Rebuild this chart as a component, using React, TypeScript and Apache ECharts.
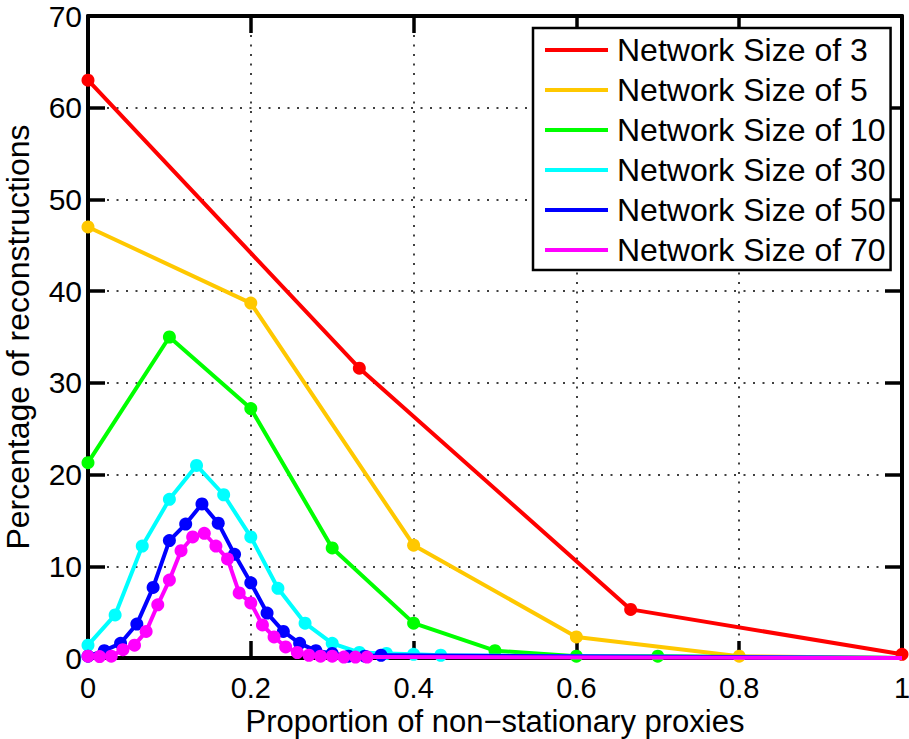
import React, { useEffect, useRef } from "react";
import * as echarts from "echarts";

const FONT = "'Liberation Sans', Arial, Helvetica, sans-serif";

const seriesNames = [
  "Network Size of 3",
  "Network Size of 5",
  "Network Size of 10",
  "Network Size of 30",
  "Network Size of 50",
  "Network Size of 70",
];
const seriesColors = ["#FF0000", "#FFC800", "#00FF00", "#00FFFF", "#0000FF", "#FF00FF"];
const networkSizes = [3, 5, 10, 30, 50, 70];

// percentages, at proportions k / networkSize (k = 0, 1, 2, ...)
const size3Values = [63.0, 31.6, 5.3, 0.4];
const size5Values = [47.0, 38.7, 12.3, 2.3, 0.2];
const size10Values = [21.3, 35.0, 27.2, 12.0, 3.8, 0.8, 0.2, 0.2];
const size30Values = [1.4, 4.7, 12.2, 17.3, 21.0, 17.8, 13.2, 7.6, 3.8, 1.6, 0.6, 0.5, 0.4, 0.3];
const size50Values = [0.2, 0.8, 1.6, 3.7, 7.7, 12.8, 14.6, 16.8, 14.7, 11.3, 8.2, 4.9, 2.9, 1.6, 0.8, 0.5, 0.2, 0.2, 0.3];
const size70Values = [0.2, 0.15, 0.2, 0.9, 1.4, 2.9, 5.8, 8.5, 11.7, 13.2, 13.6, 12.2, 10.8, 7.1, 6.0, 3.6, 2.3, 1.2, 0.6, 0.3, 0.2, 0.2, 0.1, 0.1, 0.1];

const allValues = [size3Values, size5Values, size10Values, size30Values, size50Values, size70Values];

const xTickMin = 0;
const xTickMax = 1;
const xTickStep = 0.2;
const yTickMin = 0;
const yTickMax = 70;
const yTickStep = 10;

const xAxisName = "Proportion of non\u2212stationary proxies";
const yAxisName = "Percentage of reconstructions";

function buildData(values: number[], n: number) {
  const pts: any[] = values.map((v, k) => ({ value: [k / n, v] }));
  const lastX = (values.length - 1) / n;
  if (lastX < 1 - 1e-9) {
    pts.push({ value: [1, 0], symbol: "none" });
  }
  return pts;
}

export default function App() {
  const ref = useRef<HTMLDivElement>(null);

  useEffect(() => {
    document.body.style.margin = "0";
    if (!ref.current) return;
    const chart = echarts.init(ref.current, undefined, { renderer: "svg", width: 909, height: 739 });

    const axisLineStyle = { color: "#000", width: 4 };
    const tickStyle = { color: "#000", width: 3.5 };
    const splitStyle = { color: "#000", width: 1.5, type: [2, 7.5] as any };

    const option: any = {
      animation: false,
      backgroundColor: "#fff",
      textStyle: { fontFamily: FONT },
      grid: { left: 88, right: 7, top: 16, bottom: 81, containLabel: false, outerBoundsMode: "none" },
      legend: {
        orient: "vertical",
        left: 533,
        top: 28,
        backgroundColor: "#fff",
        borderColor: "#000",
        borderWidth: 2.5,
        borderRadius: 0,
        padding: [5, 5, 3, 12],
        itemGap: 6,
        itemWidth: 63,
        itemHeight: 4,
        icon: "rect",
        selectedMode: false,
        textStyle: { fontSize: 32, fontFamily: FONT, color: "#000", lineHeight: 34, padding: [0, 0, 0, 4] },
        data: seriesNames,
      },
      xAxis: [
        {
          type: "value",
          position: "bottom",
          min: xTickMin,
          max: xTickMax,
          interval: xTickStep,
          axisLine: { show: true, onZero: false, lineStyle: axisLineStyle },
          axisTick: { show: true, inside: true, length: 17, lineStyle: tickStyle },
          axisLabel: { fontSize: 29, lineHeight: 24, color: "#000", fontFamily: FONT, margin: 18 },
          splitLine: { show: true, lineStyle: splitStyle },
          name: xAxisName,
          nameLocation: "middle",
          nameGap: 48,
          nameMoveOverlap: false,
          nameTextStyle: { fontSize: 31, lineHeight: 30, color: "#000", fontFamily: FONT },
        },
        {
          type: "value",
          position: "top",
          min: xTickMin,
          max: xTickMax,
          interval: xTickStep,
          axisLine: { show: true, onZero: false, lineStyle: axisLineStyle },
          axisTick: { show: true, inside: true, length: 17, lineStyle: tickStyle },
          axisLabel: { show: false },
          splitLine: { show: false },
        },
      ],
      yAxis: [
        {
          type: "value",
          position: "left",
          min: yTickMin,
          max: yTickMax,
          interval: yTickStep,
          axisLine: { show: true, onZero: false, lineStyle: axisLineStyle },
          axisTick: { show: true, inside: true, length: 17, lineStyle: tickStyle },
          axisLabel: { fontSize: 30, color: "#000", fontFamily: FONT, margin: 6 },
          splitLine: { show: true, lineStyle: splitStyle },
          name: yAxisName,
          nameLocation: "middle",
          nameGap: 54,
          nameTextStyle: { fontSize: 32, color: "#000", fontFamily: FONT },
        },
        {
          type: "value",
          position: "right",
          min: yTickMin,
          max: yTickMax,
          interval: yTickStep,
          axisLine: { show: true, onZero: false, lineStyle: axisLineStyle },
          axisTick: { show: true, inside: true, length: 17, lineStyle: tickStyle },
          axisLabel: { show: false },
          splitLine: { show: false },
        },
      ],
      series: seriesNames.map((name, i) => ({
        name,
        type: "line",
        xAxisIndex: 0,
        yAxisIndex: 0,
        data: buildData(allValues[i], networkSizes[i]),
        symbol: "circle",
        symbolSize: 13,
        showSymbol: true,
        showAllSymbol: true,
        clip: false,
        lineStyle: { color: seriesColors[i], width: 4 },
        itemStyle: { color: seriesColors[i], borderWidth: 0 },
        emphasis: { disabled: true },
        z: 2 + i * 0.01,
      })),
    };

    chart.setOption(option);
    return () => chart.dispose();
  }, []);

  return <div ref={ref} style={{ width: 909, height: 739, background: "#fff" }} />;
}
